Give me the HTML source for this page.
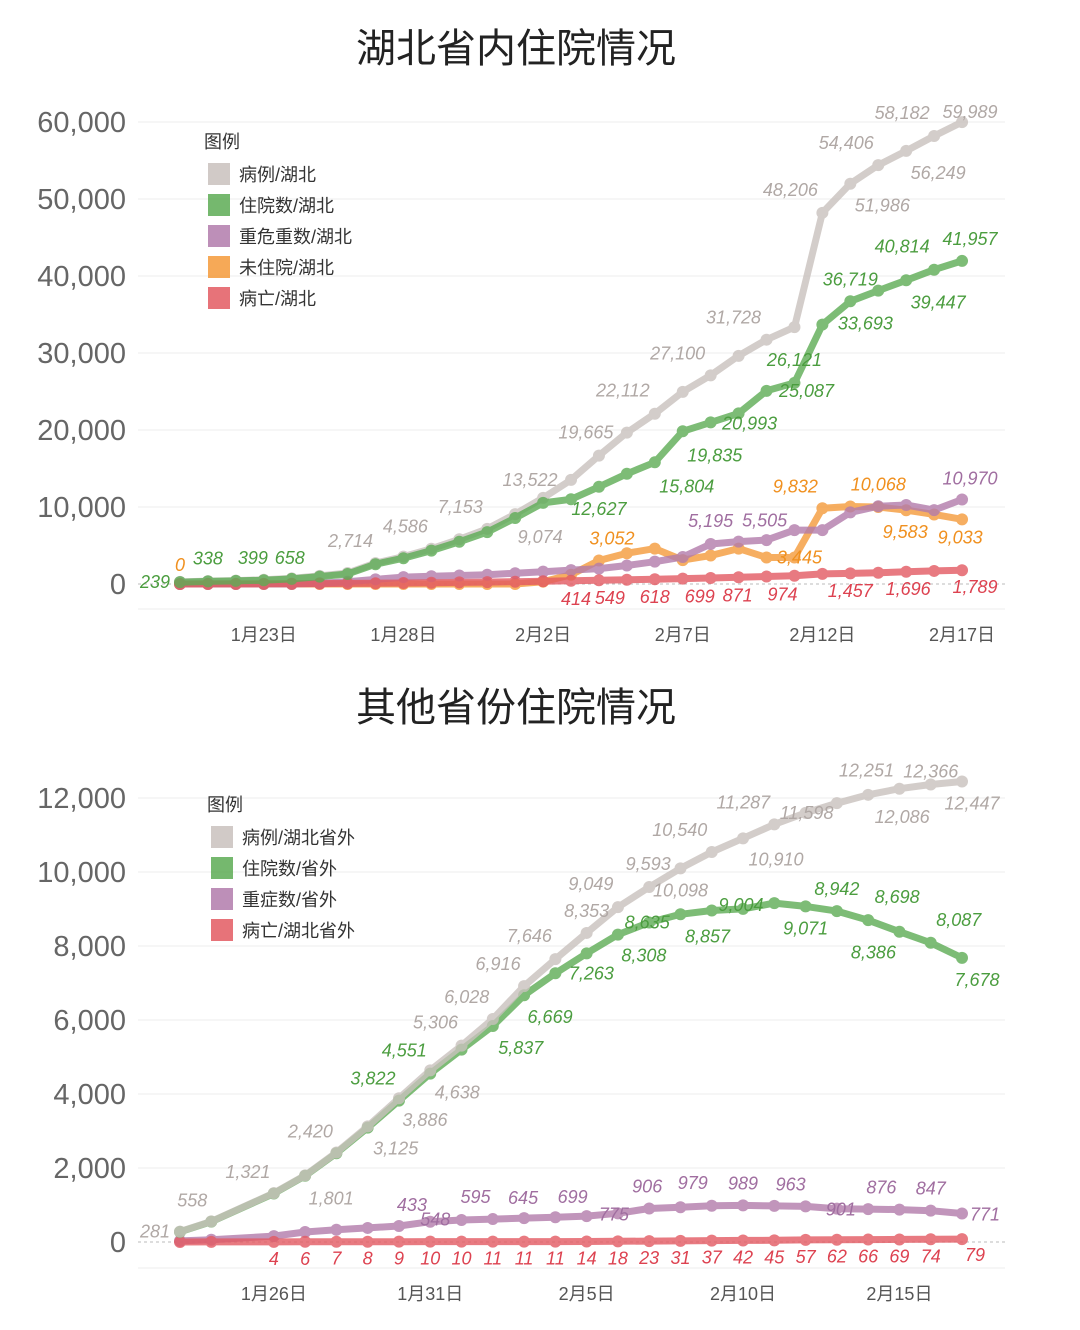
<!DOCTYPE html>
<html><head><meta charset="utf-8">
<style>
html,body{margin:0;padding:0;background:#fff;}
svg{display:block;font-family:"Liberation Sans","Noto Sans CJK SC",sans-serif;}
</style></head><body>
<svg id="c" width="1080" height="1330" viewBox="0 0 1080 1330" xmlns="http://www.w3.org/2000/svg"></svg>
<script>
// ---------- Chart 1 data (Hubei), days from Jan 20 ----------
const days1 = [0,1,2,3,4,5,6,7,8,9,10,11,12,13,14,15,16,17,18,19,20,21,22,23,24,25,26,27,28];
const xTickDays1 = [3,8,13,18,23,28];
const xTickLabels1 = ["1月23日","1月28日","2月2日","2月7日","2月12日","2月17日"];
const yTicks1 = [0,10000,20000,30000,40000,50000,60000];
const cases1 = [270,375,444,549,729,1052,1423,2714,3554,4586,5806,7153,9074,11177,13522,16678,19665,22112,24953,27100,29631,31728,33366,48206,51986,54406,56249,58182,59989];
const hosp1 = [239,338,399,494,658,957,1298,2567,3349,4334,5486,6738,8565,10532,11000,12627,14314,15804,19835,20993,22160,25087,26121,33693,36719,38107,39447,40814,41957];
const severe1 = [0,0,0,0,0,100,300,600,900,1000,1100,1200,1400,1600,1800,2000,2400,2900,3500,5195,5505,5700,7000,7000,9300,10100,10260,9600,10970];
const notHosp1 = [0,0,0,0,0,0,0,0,0,0,0,0,0,300,1200,3052,4000,4600,3100,3700,4600,3445,3445,9832,10068,10000,9583,9033,8400];
const deaths1 = [6,9,17,24,39,52,76,100,125,162,204,249,294,350,414,479,549,618,699,780,871,974,1068,1310,1380,1457,1596,1696,1789];
// label specs: [pointIndex, dx, dy]
const lab1cases = [[7,-25,-22],[9,-26,-22],[11,-27,-22],[12,25,23],[14,-41,0],[16,-41,0],[17,-32,-23],[19,-33,-22],[21,-33,-22],[23,-32,-23],[24,32,22],[25,-32,-22],[26,32,22],[27,-32,-23],[28,8,-10]];
const lab1hosp = [[0,-25,0],[1,0,-23],[2,17,-23],[4,-2,-21],[15,0,22],[17,32,24],[18,32,24],[19,39,1],[21,40,0],[22,0,-23],[23,43,-1],[24,0,-22],[26,32,22],[27,-32,-23],[28,8,-22]];
const lab1sev = [[19,0,-23],[20,26,-21],[28,8,-21]];
const lab1not = [[0,0,-19],[15,13,-22],[23,-27,-22],[24,28,-22],[26,-1,22],[27,26,23],[22,5,0]];
const lab1dead = [[14,5,18],[16,-17,18],[17,0,18],[18,17,18],[20,-1,18],[21,16,18],[25,-28,18],[27,-26,18],[28,13,17]];

// ---------- Chart 2 data (outside Hubei), days from Jan 23 ----------
const days2 = [0,1,3,4,5,6,7,8,9,10,11,12,13,14,15,16,17,18,19,20,21,22,23,24,25];
const xTickDays2 = [3,8,13,18,23];
const xTickLabels2 = ["1月26日","1月31日","2月5日","2月10日","2月15日"];
const yTicks2 = [0,2000,4000,6000,8000,10000,12000];
const cases2 = [281,558,1321,1801,2420,3125,3886,4638,5306,6028,6916,7646,8353,9049,9593,10098,10540,10910,11287,11598,11860,12086,12251,12366,12447];
const hosp2 = [275,550,1310,1790,2400,3090,3822,4551,5200,5837,6669,7263,7800,8308,8635,8857,8960,9004,9160,9071,8942,8698,8386,8087,7678];
const severe2 = [30,60,160,270,330,380,433,548,595,620,645,670,699,775,906,940,979,989,975,963,901,890,876,847,771];
const deaths2 = [1,2,4,6,7,8,9,10,10,11,11,11,14,18,23,31,37,42,45,57,62,66,69,74,79];
const lab2cases = [[0,-25,0],[1,-19,-21],[2,-26,-21],[3,26,23],[4,-26,-21],[5,28,22],[6,26,22],[7,27,22],[8,-26,-23],[9,-26,-22],[10,-26,-22],[11,-26,-23],[12,0,-22],[13,-27,-23],[14,-1,-23],[15,0,22],[16,-32,-22],[17,33,21],[18,-31,-22],[19,1,0],[21,34,22],[22,-33,-18],[23,0,-13],[24,10,22]];
const lab2hosp = [[6,-26,-22],[7,-26,-23],[9,28,22],[10,26,22],[11,36,0],[13,26,21],[14,-2,0],[15,27,22],[17,-2,-4],[19,0,22],[20,0,-22],[21,29,-23],[22,-26,21],[23,28,-23],[24,15,22]];
const lab2sev = [[6,13,-21],[7,5,-2],[8,14,-23],[10,-1,-20],[12,-14,-19],[13,-4,1],[14,-2,-22],[16,-19,-23],[17,0,-22],[19,-15,-22],[20,4,1],[22,-18,-22],[23,0,-22],[24,23,1]];
const lab2dead = [[2,0,17],[3,0,17],[4,0,17],[5,0,17],[6,0,17],[7,0,17],[8,0,17],[9,0,17],[10,0,17],[11,0,17],[12,0,17],[13,0,17],[14,0,17],[15,0,17],[16,0,17],[17,0,17],[18,0,17],[19,0,17],[20,0,17],[21,0,17],[22,0,17],[23,0,17],[24,13,16]];

const NS = "http://www.w3.org/2000/svg";
const svg = document.getElementById('c');
function mk(tag, attrs, parent, text){
  const e = document.createElementNS(NS, tag);
  for (const k in attrs) e.setAttribute(k, attrs[k]);
  if (text !== undefined) e.textContent = text;
  (parent || svg).appendChild(e);
  return e;
}
const fmt = v => v.toLocaleString('en-US');

function chart(cfg){
  const g = mk('g', {});
  
  
  const X = d => cfg.x0 + d * cfg.dx;
  const Y = v => cfg.y0 - v * cfg.ky;
  const t = mk('text', {x:516, y:cfg.titleY, 'text-anchor':'middle', 'font-size':40, fill:'#222'}, g, cfg.title);
  
  
  cfg.yTicks.forEach(v => {
    const gl = mk('line', {x1:138, x2:1005, y1:Y(v), y2:Y(v), stroke: v===0?'#bbb':'#ececec', 'stroke-width':1, 'stroke-dasharray': v===0?'3,3':'none'}, g);
    
    
    const tl = mk('text', {x:126, y:Y(v)+10, 'text-anchor':'end', 'font-size':29, fill:'#666'}, g, fmt(v));
    
    
  });
  mk('line', {x1:138, x2:1005, y1:cfg.axisY, y2:cfg.axisY, stroke:'#ececec'}, g);
  cfg.xTickDays.forEach((d,i) => {
    const xl = mk('text', {x:X(d), y:cfg.axisY+32, 'text-anchor':'middle', 'font-size':18, fill:'#555'}, g, cfg.xTickLabels[i]);
    
    
  });
  cfg.series.forEach(s => {
    const sg = mk('g', {opacity:0.8}, g);
    
    
    const pts = s.values.map((v,i) => X(cfg.days[i]).toFixed(1) + ',' + Y(v).toFixed(1)).join(' ');
    const pl = mk('polyline', {points:pts, fill:'none', stroke:s.color, 'stroke-width':7, 'stroke-linejoin':'round', 'stroke-linecap':'round'}, sg);
    
    
    s.values.forEach((v,i) => {
      const c = mk('circle', {cx:X(cfg.days[i]), cy:Y(v), r:6, fill:s.color}, sg);
      
      
    });
  });
  cfg.series.forEach(s => {
    s.labels.forEach(l => {
      const i = l[0];
      const tx = mk('text', {x:X(cfg.days[i]) + l[1], y:Y(s.values[i]) + l[2] + 6, 'text-anchor':'middle', 'font-size':18, 'font-style':'italic', fill:s.textColor}, g, fmt(s.values[i]));
      
      
    });
  });
  const lg = mk('g', {}, g);
  
  
  mk('text', {x:cfg.legX-4, y:cfg.legY, 'font-size':18, fill:'#333'}, lg, '图例');
  cfg.series.slice().sort((a,b)=>a.legendOrder-b.legendOrder).forEach((s,k) => {
    const ey = cfg.legY + 15 + k*31;
    const r = mk('rect', {x:cfg.legX, y:ey, width:22, height:22, fill:s.color, opacity:0.85}, lg);
    
    
    const lt = mk('text', {x:cfg.legX+31, y:ey+18, 'font-size':18, fill:'#333'}, lg, s.legend);
    
    
  });
}

const GRAY='#c9c1bd', GREEN='#5dac55', PURPLE='#b27bab', ORANGE='#f59a3a', RED='#e35a62';
chart({name:'hubei-chart', title:'湖北省内住院情况', titleY:62, x0:180, dx:27.93, y0:584, ky:462/60000, axisY:609,
  days:days1, yTicks:yTicks1, xTickDays:xTickDays1, xTickLabels:xTickLabels1, legX:208, legY:148,
  series:[
    {key:'cases', legend:'病例/湖北', legendOrder:0, color:GRAY, textColor:'#b0a8a5', values:cases1, labels:lab1cases},
    {key:'not-hospitalized', legend:'未住院/湖北', legendOrder:3, color:ORANGE, textColor:'#f0901f', values:notHosp1, labels:lab1not},
    {key:'severe', legend:'重危重数/湖北', legendOrder:2, color:PURPLE, textColor:'#a06ea0', values:severe1, labels:lab1sev},
    {key:'deaths', legend:'病亡/湖北', legendOrder:4, color:RED, textColor:'#dd4250', values:deaths1, labels:lab1dead},
    {key:'hospitalized', legend:'住院数/湖北', legendOrder:1, color:GREEN, textColor:'#4b9d3f', values:hosp1, labels:lab1hosp}
  ]});
chart({name:'other-provinces-chart', title:'其他省份住院情况', titleY:721, x0:180, dx:31.28, y0:1242, ky:444/12000, axisY:1268,
  days:days2, yTicks:yTicks2, xTickDays:xTickDays2, xTickLabels:xTickLabels2, legX:211, legY:811,
  series:[
    {key:'severe-outside', legend:'重症数/省外', legendOrder:2, color:PURPLE, textColor:'#a06ea0', values:severe2, labels:lab2sev},
    {key:'deaths-outside', legend:'病亡/湖北省外', legendOrder:3, color:RED, textColor:'#dd4250', values:deaths2, labels:lab2dead},
    {key:'hospitalized-outside', legend:'住院数/省外', legendOrder:1, color:GREEN, textColor:'#4b9d3f', values:hosp2, labels:lab2hosp},
    {key:'cases-outside', legend:'病例/湖北省外', legendOrder:0, color:GRAY, textColor:'#b0a8a5', values:cases2, labels:lab2cases}
  ]});
</script>
</body></html>
